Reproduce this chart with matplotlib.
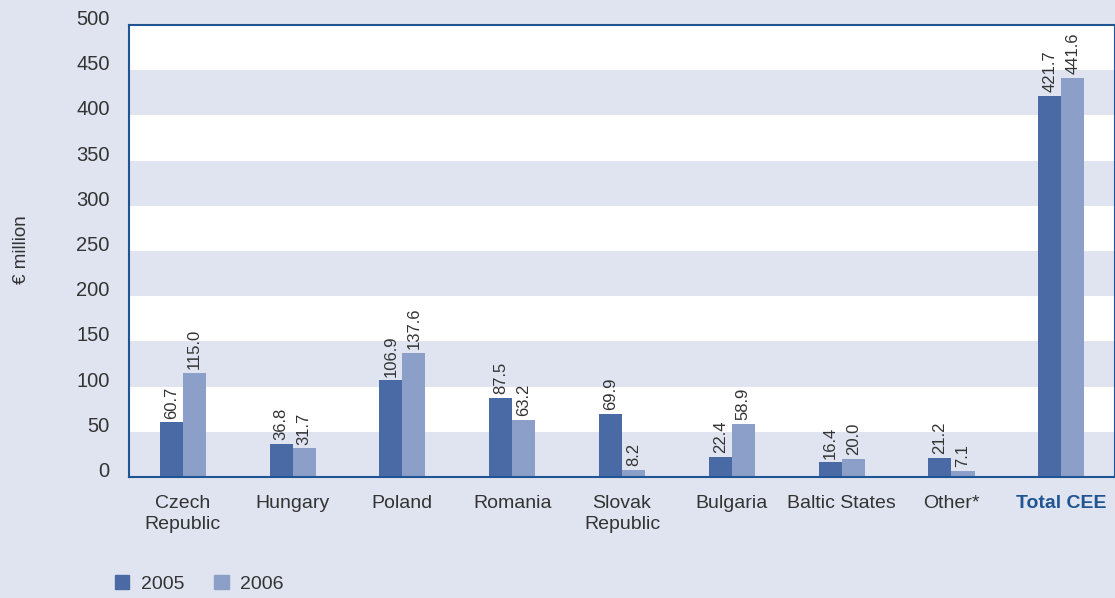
import numpy as np
import matplotlib
matplotlib.use("Agg")
import matplotlib.pyplot as plt
from matplotlib.patches import Patch

categories = ["Czech\nRepublic", "Hungary", "Poland", "Romania", "Slovak\nRepublic",
              "Bulgaria", "Baltic States", "Other*", "Total CEE"]
values_2005 = [60.7, 36.8, 106.9, 87.5, 69.9, 22.4, 16.4, 21.2, 421.7]
values_2006 = [115.0, 31.7, 137.6, 63.2, 8.2, 58.9, 20.0, 7.1, 441.6]
years = ["2005", "2006"]

BG = "#e0e4f0"
DARK = "#4a6aa5"
LIGHT = "#8c9fc8"
TEXT = "#333333"
NAVY = "#1f5593"

plt.rcParams["font.family"] = ["Liberation Sans Narrow", "Liberation Sans", "DejaVu Sans"]

fig = plt.figure(figsize=(11.15, 5.98), dpi=100, facecolor=BG)
ax = fig.add_axes([129 / 1115, 1 - 477 / 598, 985 / 1115, 452 / 598])
ax.set_facecolor("white")

# alternating horizontal bands, lavender on 0-50, 100-150, ...
for lo in range(0, 500, 100):
    ax.axhspan(lo, lo + 50, color=BG, lw=0, zorder=0)

x = np.arange(len(categories))
w = 0.21
b1 = ax.bar(x - w / 2, values_2005, w, color=DARK, zorder=2)
b2 = ax.bar(x + w / 2, values_2006, w, color=LIGHT, zorder=2)

for bars, vals in ((b1, values_2005), (b2, values_2006)):
    for bar, v in zip(bars, vals):
        ax.text(bar.get_x() + bar.get_width() / 2, v + 4, f"{v:.1f}",
                rotation=90, ha="center", va="bottom", fontsize=12, color=TEXT)

ax.set_xlim(-0.49, 8.48)
ax.set_ylim(0, 500)
ax.set_yticks(range(0, 501, 50))
ax.tick_params(axis="y", length=0, pad=14, labelsize=14.5, labelcolor=TEXT)
for lbl in ax.get_yticklabels():
    lbl.set_verticalalignment("baseline")
ax.set_xticks(x)
ax.set_xticklabels(categories, fontsize=14, color=TEXT, linespacing=1.3)
ax.tick_params(axis="x", length=0, pad=13)
xl = ax.get_xticklabels()[-1]
xl.set_fontweight("bold")
xl.set_color(NAVY)

for s in ("left", "top", "bottom"):
    ax.spines[s].set_color(NAVY)
    ax.spines[s].set_linewidth(1.5)
ax.spines["right"].set_color(NAVY)
ax.spines["right"].set_linewidth(0.8)

fig.text(22 / 1115, 1 - 250 / 598, "€ million", rotation=90, ha="center", va="center",
         fontsize=13.5, color=TEXT)

handles = [Patch(color=DARK), Patch(color=LIGHT)]
fig.legend(handles, years, loc="center left", bbox_to_anchor=(97 / 1115, 1 - 584 / 598), ncol=2,
           frameon=False, fontsize=14, handlelength=0.77, handleheight=0.77,
           columnspacing=1.5, handletextpad=0.6, labelcolor=TEXT)

fig.savefig("out.png", dpi=100, facecolor=BG)
